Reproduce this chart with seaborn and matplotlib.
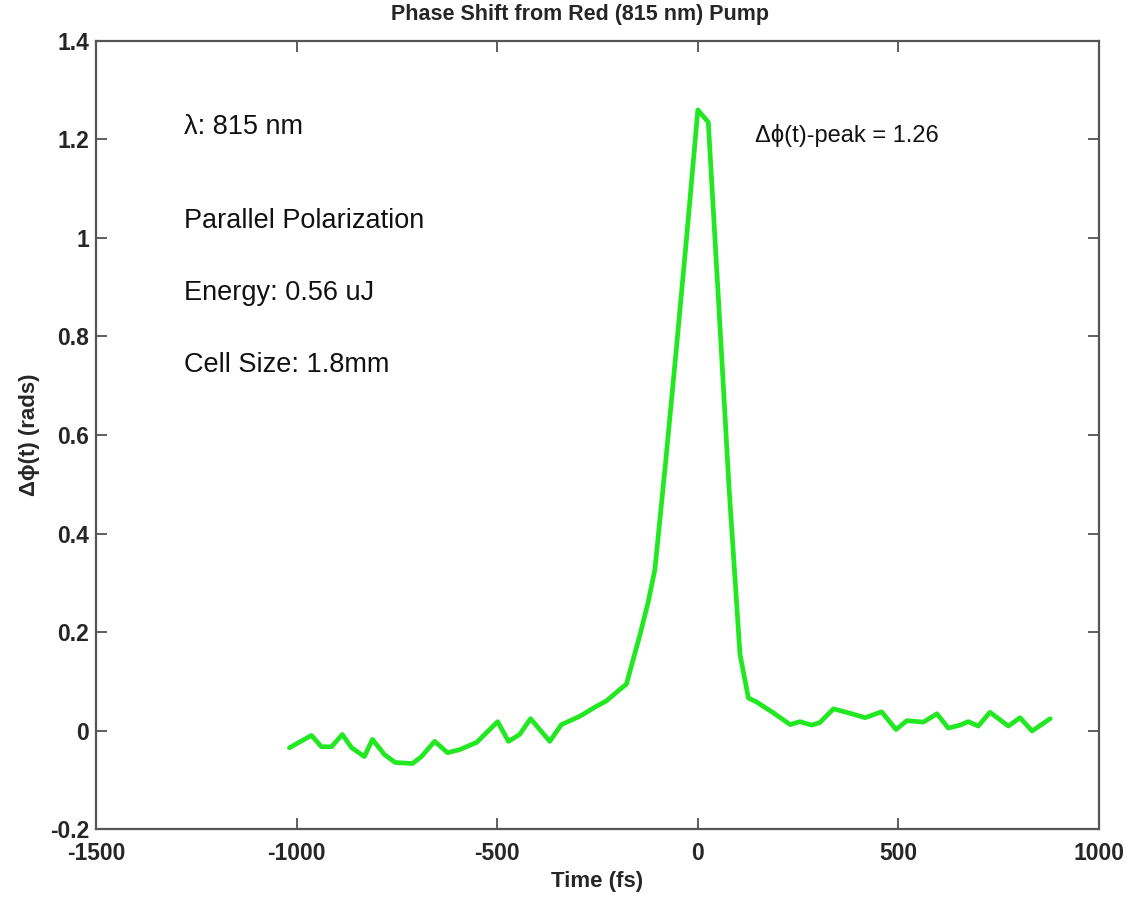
import matplotlib
matplotlib.use("Agg")
import matplotlib.pyplot as plt
import seaborn as sns
import pandas as pd

# Pump-probe phase shift trace
time_fs = [-1018, -963, -938, -913, -886, -863, -831, -811, -781, -754,
           -711, -689, -656, -624, -594, -551, -499, -472, -444, -417,
           -369, -340, -294, -253, -228, -195, -178, -170, -145, -124,
           -107, -80, -53, -27, 0, 26, 52, 78, 105, 126,
           146, 188, 230, 254, 284, 304, 338, 379, 417, 458,
           494, 521, 562, 596, 624, 654, 674, 699, 728, 774,
           803, 833, 878]
phase_rad = [-0.035, -0.010, -0.033, -0.033, -0.008, -0.035, -0.053, -0.018, -0.049, -0.065,
             -0.067, -0.053, -0.022, -0.045, -0.039, -0.024, 0.018, -0.022, -0.008, 0.024,
             -0.022, 0.012, 0.029, 0.049, 0.060, 0.083, 0.094, 0.118, 0.192, 0.260,
             0.327, 0.547, 0.780, 1.010, 1.260, 1.235, 0.866, 0.490, 0.155, 0.066,
             0.058, 0.036, 0.012, 0.018, 0.011, 0.016, 0.044, 0.035, 0.026, 0.038,
             0.002, 0.020, 0.017, 0.034, 0.005, 0.011, 0.018, 0.009, 0.037, 0.009,
             0.026, -0.001, 0.024]

x_ticks = [-1500, -1000, -500, 0, 500, 1000]
y_ticks = [-0.2, 0, 0.2, 0.4, 0.6, 0.8, 1, 1.2, 1.4]
y_tick_labels = ["-0.2", "0", "0.2", "0.4", "0.6", "0.8", "1", "1.2", "1.4"]

notes = ["\u03bb: 815 nm", "Parallel Polarization", "Energy: 0.56 uJ", "Cell Size: 1.8mm"]
note_y = [1.226, 1.035, 0.888, 0.742]
peak_label = "\u0394\u03d5(t)-peak = 1.26"

sns.set_style("ticks")
plt.rcParams["font.family"] = ["Liberation Sans", "DejaVu Sans"]

df = pd.DataFrame({"Time (fs)": time_fs, "phase": phase_rad})

fig = plt.figure(figsize=(11.36, 8.97), dpi=100)
ax = fig.add_axes([0.0845, 0.0758, 0.883, 0.8785])

sns.lineplot(data=df, x="Time (fs)", y="phase", ax=ax, color="#22e822",
             linewidth=3.4, sort=False)

ax.set_xlim(-1500, 1000)
ax.set_ylim(-0.2, 1.4)
ax.set_xticks(x_ticks)
ax.set_xticklabels([str(v) for v in x_ticks])
ax.set_yticks(y_ticks)
ax.set_yticklabels(y_tick_labels)

for lbl in ax.get_xticklabels() + ax.get_yticklabels():
    lbl.set_fontweight("bold")
    lbl.set_fontsize(16.5)

ax.tick_params(direction="in", length=8, width=1.2, color="#444444",
               top=True, right=True)
ax.tick_params(axis="x", pad=9)
ax.tick_params(axis="y", pad=5)
for sp in ax.spines.values():
    sp.set_visible(True)
    sp.set_color("#555555")
    sp.set_linewidth(1.6)

ax.set_xlabel("Time (fs)", fontsize=16, fontweight="bold", labelpad=5)
ax.set_ylabel("\u0394\u03d5(t) (rads)", fontsize=16, fontweight="bold")
ax.yaxis.set_label_coords(-0.056, 0.5)

fig.text(0.511, 0.984, "Phase Shift from Red (815 nm) Pump", ha="center", va="center",
         fontsize=15.5, fontweight="bold")

for txt, yv in zip(notes, note_y):
    ax.text(-1280, yv, txt, fontsize=19.5, ha="left", va="center", color="#111111")
ax.text(142, 1.209, peak_label, fontsize=17, ha="left", va="center", color="#111111")

fig.savefig("out.png", dpi=100, facecolor="white")
